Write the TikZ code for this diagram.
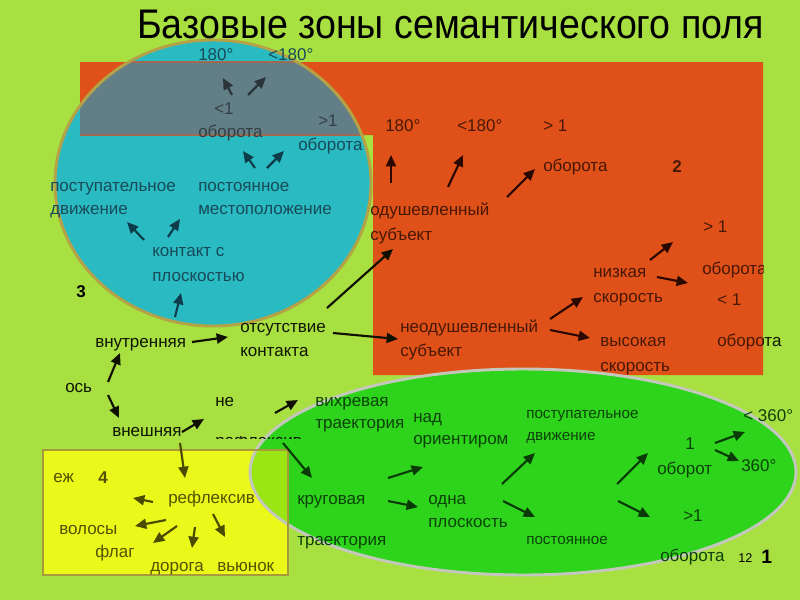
\documentclass[tikz,border=0pt]{standalone}
\usepackage{fontspec}
\setmainfont{Liberation Sans}
\usetikzlibrary{arrows.meta}
\definecolor{limebg}{HTML}{A8E042}
\definecolor{orangez}{HTML}{DF5118}
\definecolor{cyanz}{HTML}{2ABBC2}
\definecolor{goldb}{HTML}{B5A146}
\definecolor{grayz}{HTML}{627F88}
\definecolor{grayb}{HTML}{A06A50}
\definecolor{greenz}{HTML}{2DD41B}
\definecolor{greenb}{HTML}{C4C8BC}
\definecolor{yellowz}{HTML}{EAF81A}
\definecolor{yellowb}{HTML}{A89A3C}
\definecolor{ygz}{HTML}{9AE614}
\definecolor{tcy}{HTML}{184A58}
\definecolor{tgr}{HTML}{343F44}
\definecolor{tor}{HTML}{481806}
\definecolor{tli}{HTML}{101500}
\definecolor{tgn}{HTML}{0C4208}
\definecolor{tye}{HTML}{525200}
\definecolor{acy}{HTML}{0E3C4A}
\definecolor{agr}{HTML}{2A343A}
\definecolor{aor}{HTML}{2A0800}
\definecolor{ali}{HTML}{101000}
\definecolor{agn}{HTML}{0A3A05}
\definecolor{aye}{HTML}{4A4A00}
\newcommand\arrw[4]{\coordinate (#1s) at (#2); \coordinate (#1e) at (#3); \draw[arrowst, #4] (#1s) -- (#1e);}
\begin{document}
\begin{tikzpicture}[x=0.75pt,y=-0.75pt,
  lab/.style={anchor=base west, inner sep=0pt, font=\fontsize{12.75pt}{15pt}\selectfont},
  smalllab/.style={anchor=base west, inner sep=0pt, font=\fontsize{11.4pt}{13pt}\selectfont},
  numlab/.style={anchor=base west, inner sep=0pt, font=\fontsize{12.75pt}{15pt}\selectfont\bfseries},
  arrowst/.style={line width=1.6pt, -{Triangle[length=8.5pt,width=7.5pt]}}]
\fill[limebg] (0,0) rectangle (800,600);
\useasboundingbox (0,0) rectangle (800,600);
% zone 3 circle
\fill[cyanz] (213,183) ellipse [x radius=158, y radius=143];
% zone 2 orange
\fill[orangez] (80,62) -- (763,62) -- (763,375) -- (373,375) -- (373,135) -- (80,135) -- cycle;
\begin{scope}
  \clip (213,183) ellipse [x radius=158, y radius=143];
  \fill[grayz] (80,62) rectangle (373,135);
  \draw[grayb, line width=1.1pt] (80,62) -- (373,62) (80,135) -- (373,135);
\end{scope}
\draw[goldb, line width=2.2pt] (213,183) ellipse [x radius=158, y radius=143];
% zone 4 and 1
\fill[yellowz] (43,450) rectangle (288,575);
\fill[greenz] (523,472) ellipse [x radius=273, y radius=103];
\begin{scope}
  \clip (43,450) rectangle (288,575);
  \fill[ygz] (523,472) ellipse [x radius=273, y radius=103];
\end{scope}
\draw[greenb, line width=2.2pt] (523,472) ellipse [x radius=273, y radius=103];
\draw[yellowb, line width=2.2pt] (43,450) rectangle (288,575);
% title
\node[anchor=base west, inner sep=0pt, font=\fontsize{28.2pt}{32pt}\selectfont] (title) at (137,38) {\scalebox{1}[1.1]{Базовые зоны семантического поля}};
% circle texts
\node[lab, text=tcy] (c180) at (198,60) {180°};
\node[lab, text=tcy] (c180b) at (268,60) {<180°};
\node[lab, text=tgr] (clt1) at (214,114) {<1};
\node[lab, text=tgr] (cob1) at (198,137) {оборота};
\node[lab, text=tgr] (cgt1) at (318,126) {>1};
\node[lab, text=tcy] (cob2) at (298,150) {оборота};
\node[lab, text=tcy] (cpost1) at (50,191) {поступательное};
\node[lab, text=tcy] (cpost2) at (50,214) {движение};
\node[lab, text=tcy] (cpos1) at (198,191) {постоянное};
\node[lab, text=tcy] (cpos2) at (198,214) {местоположение};
\node[lab, text=tcy] (ckon1) at (152,256) {контакт с};
\node[lab, text=tcy] (ckon2) at (152,281) {плоскостью};
\node[numlab, text=black] (n3) at (76,297) {3};
% lime texts
\node[lab, text=tli] (vnutr) at (95,347) {внутренняя};
\node[lab, text=tli] (os) at (65,392) {ось};
\node[lab, text=tli] (vnesh) at (112,436) {внешняя};
\node[lab, text=tli] (ots1) at (240,332) {отсутствие};
\node[lab, text=tli] (ots2) at (240,356) {контакта};
\node[lab, text=tli] (ne) at (215,406) {не};
\begin{scope}
  \clip (210,436.3) rectangle (310,438.6);
  \node[lab, text=tli] (nerefl) at (215,446.5) {рефлексив};
\end{scope}
\node[lab, text=tgn] (vihr1) at (315,406) {вихревая};
\node[lab, text=tgn] (vihr2) at (315,428) {траектория};
% orange texts
\node[lab, text=tor] (o180) at (385,131) {180°};
\node[lab, text=tor] (o180b) at (457,131) {<180°};
\node[lab, text=tor] (ogt1) at (543,131) {> 1};
\node[lab, text=tor] (oob1) at (543,171) {оборота};
\node[numlab, text=tor] (n2) at (672,172) {2};
\node[lab, text=tor] (odush1) at (370,215) {одушевленный};
\node[lab, text=tor] (odush2) at (370,240) {субъект};
\node[lab, text=tor] (ogt2) at (703,232) {> 1};
\node[lab, text=tor] (nizk1) at (593,277) {низкая};
\node[lab, text=tor] (nizk2) at (593,302) {скорость};
\begin{scope}
  \clip (373,62) rectangle (763,375);
  \node[lab, text=tor] (oob2) at (702,274) {оборота};
\end{scope}
\node[lab, text=tor] (olt1) at (717,305) {< 1};
\node[lab, text=tor] (neod1) at (400,332) {неодушевленный};
\node[lab, text=tor] (neod2) at (400,356) {субъект};
\node[lab, text=tor] (vys1) at (600,346) {высокая};
\node[lab, text=tor] (vys2) at (600,371) {скорость};
\begin{scope}
  \clip (700,320) rectangle (763,360);
  \node[lab, text=tor] (oob3) at (717,346) {оборота};
\end{scope}
\begin{scope}
  \clip (763,320) rectangle (800,360);
  \node[lab, text=tli] (oob3b) at (717,346) {оборота};
\end{scope}
% yellow texts
\node[lab, text=tye] (ezh) at (53,482) {еж};
\node[numlab, text=tye] (n4) at (98,483) {4};
\node[lab, text=tye] (refl) at (168,503) {рефлексив};
\node[lab, text=tye] (volos) at (59,534) {волосы};
\node[lab, text=tye] (flag) at (95,557) {флаг};
\node[lab, text=tye] (doroga) at (150,571) {дорога};
\node[lab, text=tye] (vyunok) at (217,571) {вьюнок};
% green texts
\node[lab, text=tgn] (krug1) at (297,504) {круговая};
\node[lab, text=tgn] (krug2) at (297,545) {траектория};
\node[lab, text=tgn] (nad1) at (413,422) {над};
\node[lab, text=tgn] (nad2) at (413,444) {ориентиром};
\node[lab, text=tgn] (odna1) at (428,504) {одна};
\node[lab, text=tgn] (odna2) at (428,527) {плоскость};
\node[smalllab, text=tgn] (gpost1) at (526,418) {поступательное};
\node[smalllab, text=tgn] (gpost2) at (526,440) {движение};
\node[smalllab, text=tgn] (gpos) at (526,544) {постоянное};
\node[lab, text=tgn] (g1) at (685,449) {1};
\node[lab, text=tgn] (gob1) at (657,474) {оборот};
\node[lab, text=tgn] (ggt1) at (683,521) {>1};
\node[lab, text=tgn] (gob2) at (660,561) {оборота};
\node[lab, text=tgn] (glt360) at (743,421) {< 360°};
\node[lab, text=tgn] (g360) at (741,471) {360°};
\node[anchor=base west, inner sep=0pt, font=\fontsize{9.5pt}{11pt}\selectfont, text=black] (pg) at (738,562) {12};
\node[anchor=base west, inner sep=0pt, font=\fontsize{14.5pt}{17pt}\selectfont\bfseries, text=black] (n1) at (761,563) {1};
% arrows
\arrw{a1}{232,95}{223,78}{agr}
\arrw{a2}{248,95}{266,77}{agr}
\arrw{a3}{255,168}{243,151}{acy}
\arrw{a4}{267,168}{284,151}{acy}
\arrw{a5}{144,240}{127,222}{acy}
\arrw{a6}{168,237}{180,219}{acy}
\arrw{a7}{175,317}{181,293}{acy}
\arrw{a8}{108,382}{120,353}{ali}
\arrw{a9}{108,395}{119,418}{ali}
\arrw{a10}{192,342}{228,337}{ali}
\arrw{a11}{327,308}{393,249}{ali}
\arrw{a12}{333,333}{398,339}{ali}
\arrw{a13}{391,183}{391,155}{aor}
\arrw{a14}{448,187}{463,155}{aor}
\arrw{a15}{507,197}{535,169}{aor}
\arrw{a16}{550,319}{583,297}{aor}
\arrw{a17}{550,330}{590,338}{aor}
\arrw{a18}{650,260}{673,242}{aor}
\arrw{a19}{657,277}{688,283}{aor}
\arrw{a20}{182,432}{204,419}{ali}
\arrw{a21}{275,413}{298,400}{ali}
\arrw{a22}{180,443}{185,478}{aye}
\arrw{a23}{153,502}{133,498}{aye}
\arrw{a24}{166,520}{135,526}{aye}
\arrw{a25}{177,526}{153,543}{aye}
\arrw{a26}{195,527}{192,548}{aye}
\arrw{a27}{213,514}{225,537}{aye}
\arrw{a28}{283,443}{312,478}{agn}
\arrw{a29}{388,478}{423,467}{agn}
\arrw{a30}{388,501}{418,507}{agn}
\arrw{a31}{502,484}{535,453}{agn}
\arrw{a32}{503,501}{535,517}{agn}
\arrw{a33}{617,484}{648,453}{agn}
\arrw{a34}{618,501}{650,517}{agn}
\arrw{a35}{715,443}{745,432}{agn}
\arrw{a36}{715,450}{739,461}{agn}
\end{tikzpicture}
\end{document}
